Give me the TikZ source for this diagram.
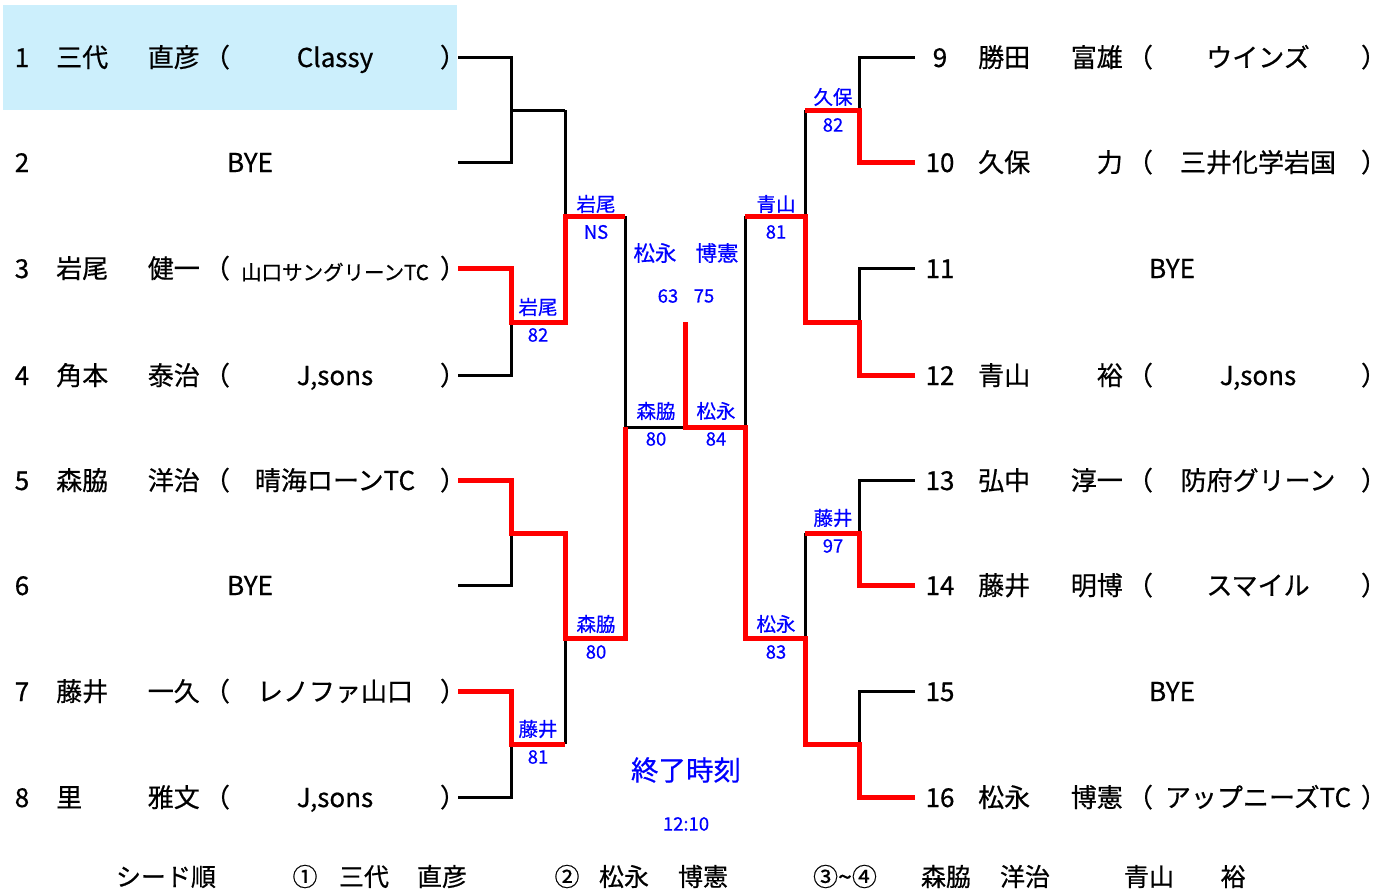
\documentclass[tikz,border=0pt]{standalone}
\usepackage{fontspec}
\setmainfont{Noto Sans CJK JP}[FakeBold=0.6]
\begin{document}
\begin{tikzpicture}[x=1pt,y=-1pt,
  bk/.style={line width=3pt,black},
  rd/.style={line width=5pt,red},
  nm/.style={font=\fontsize{26}{26}\selectfont,inner sep=0pt,anchor=base,yshift=-10pt},
  tm/.style={nm},
  sm/.style={nm,font=\fontsize{20.5}{20.5}\selectfont,yshift=-2pt},
  lb/.style={text=blue,font=\fontsize{19.5}{19.5}\selectfont,inner sep=0pt},
  sc/.style={text=blue,font=\fontsize{18.5}{18.5}\selectfont,inner sep=0pt},
  bt/.style={font=\fontsize{25}{25}\selectfont,inner sep=0pt,anchor=base,yshift=-10pt}]
\useasboundingbox (0,0) rectangle (1390,894);
\fill[cyan!20] (3,5) rectangle (457,110);
% coordinates
\foreach \i/\y in {1/57,2/162,3/268,4/375,5/480,6/585,7/691,8/797}{
  \coordinate (P\i) at (458,\y);}
\foreach \i/\y in {9/57,10/162,11/268,12/375,13/480,14/585,15/691,16/797}{
  \coordinate (P\i) at (915,\y);}
\coordinate (m1) at (0,110); \coordinate (m2) at (0,322);
\coordinate (m3) at (0,533); \coordinate (m4) at (0,744);
\coordinate (n1) at (0,216); \coordinate (n2) at (0,638);
\coordinate (f) at (0,427); \coordinate (ft) at (0,322);
\coordinate (cL1) at (511,0); \coordinate (cL2) at (565,0);
\coordinate (cL3) at (625,0); \coordinate (cC) at (685,0);
\coordinate (cR3) at (745,0); \coordinate (cR2) at (805,0);
\coordinate (cR1) at (859,0);
% black bracket left
\draw[bk] (P1) -- (P1-|cL1) -- (P2-|cL1) -- (P2);
\draw[bk] (P3) -- (P3-|cL1) -- (P4-|cL1) -- (P4);
\draw[bk] (P5) -- (P5-|cL1) -- (P6-|cL1) -- (P6);
\draw[bk] (P7) -- (P7-|cL1) -- (P8-|cL1) -- (P8);
\draw[bk] (m1-|cL1) -- (m1-|cL2);
\draw[bk] (m2-|cL1) -- (m2-|cL2);
\draw[bk] (m3-|cL1) -- (m3-|cL2);
\draw[bk] (m4-|cL1) -- (m4-|cL2);
\draw[bk] (m1-|cL2) -- (m2-|cL2);
\draw[bk] (m3-|cL2) -- (m4-|cL2);
\draw[bk] (n1-|cL2) -- (n1-|cL3);
\draw[bk] (n2-|cL2) -- (n2-|cL3);
\draw[bk] (n1-|cL3) -- (n2-|cL3);
\draw[bk] (f-|cL3) -- (f-|cR3);
% black bracket right
\draw[bk] (P9) -- (P9-|cR1) -- (P10-|cR1) -- (P10);
\draw[bk] (P11) -- (P11-|cR1) -- (P12-|cR1) -- (P12);
\draw[bk] (P13) -- (P13-|cR1) -- (P14-|cR1) -- (P14);
\draw[bk] (P15) -- (P15-|cR1) -- (P16-|cR1) -- (P16);
\draw[bk] (m1-|cR1) -- (m1-|cR2);
\draw[bk] (m2-|cR1) -- (m2-|cR2);
\draw[bk] (m3-|cR1) -- (m3-|cR2);
\draw[bk] (m4-|cR1) -- (m4-|cR2);
\draw[bk] (m1-|cR2) -- (m2-|cR2);
\draw[bk] (m3-|cR2) -- (m4-|cR2);
\draw[bk] (n1-|cR2) -- (n1-|cR3);
\draw[bk] (n2-|cR2) -- (n2-|cR3);
\draw[bk] (n1-|cR3) -- (n2-|cR3);
% red winner paths
\draw[rd] (P3) -- (P3-|cL1) -- (m2-|cL1) -- (m2-|cL2) -- (n1-|cL2) -- (n1-|cL3);
\draw[rd] (P5) -- (P5-|cL1) -- (m3-|cL1) -- (m3-|cL2) -- (n2-|cL2) -- (n2-|cL3) -- (f-|cL3);
\draw[rd] (P7) -- (P7-|cL1) -- (m4-|cL1) -- (m4-|cL2);
\draw[rd] (ft-|cC) -- (f-|cC) -- (f-|cR3) -- (n2-|cR3) -- (n2-|cR2) -- (m4-|cR2) -- (m4-|cR1) -- (P16-|cR1) -- (P16);
\draw[rd] (n1-|cR3) -- (n1-|cR2) -- (m2-|cR2) -- (m2-|cR1) -- (P12-|cR1) -- (P12);
\draw[rd] (m1-|cR2) -- (m1-|cR1) -- (P10-|cR1) -- (P10);
\draw[rd] (m3-|cR2) -- (m3-|cR1) -- (P14-|cR1) -- (P14);
% left players
\newcommand\plL[5]{%
  \node[nm] (n#2) at (22,#1) {#2};
  \node[nm,anchor=base west] (s#2) at (56,#1) {#3};
  \node[nm,anchor=base east] (g#2) at (200,#1) {#4};
  \node[nm] (o#2) at (217,#1) {（};
  \node[tm] (t#2) at (335,#1) {#5};
  \node[nm] (c#2) at (453,#1) {）};}
\newcommand\plR[5]{%
  \node[nm] (n#2) at (940,#1) {#2};
  \node[nm,anchor=base west] (s#2) at (978,#1) {#3};
  \node[nm,anchor=base east] (g#2) at (1123,#1) {#4};
  \node[nm] (o#2) at (1140,#1) {（};
  \node[tm] (t#2) at (1258,#1) {#5};
  \node[nm] (c#2) at (1374,#1) {）};}
\plL{57}{1}{三代}{直彦}{Classy}
\node[nm] (n2) at (22,162) {2}; \node[nm] (b2) at (250,162) {BYE};
\node[nm] (n3) at (22,268) {3};
\node[nm,anchor=base west] (s3) at (56,268) {岩尾};
\node[nm,anchor=base east] (g3) at (200,268) {健一};
\node[nm] (o3) at (217,268) {（};
\node[sm] (t3) at (335,268) {山口サングリーンTC};
\node[nm] (c3) at (453,268) {）};
\plL{375}{4}{角本}{泰治}{J,sons}
\plL{480}{5}{森脇}{洋治}{晴海ローンTC}
\node[nm] (n6) at (22,585) {6}; \node[nm] (b6) at (250,585) {BYE};
\plL{691}{7}{藤井}{一久}{レノファ山口}
\plL{797}{8}{里}{雅文}{J,sons}
% right players
\plR{57}{9}{勝田}{富雄}{ウインズ}
\plR{162}{10}{久保}{力}{三井化学岩国}
\node[nm] (n11) at (940,268) {11}; \node[nm] (b11) at (1172,268) {BYE};
\plR{375}{12}{青山}{裕}{J,sons}
\plR{480}{13}{弘中}{淳一}{防府グリーン}
\plR{585}{14}{藤井}{明博}{スマイル}
\node[nm] (n15) at (940,691) {15}; \node[nm] (b15) at (1172,691) {BYE};
\plR{797}{16}{松永}{博憲}{アップニーズTC}
% match labels
\newcommand\ml[5]{%
  \node[lb] (w#1) at (#2,#3) {#4};
  \node[sc] (r#1) at (#2,#3+28) {#5};}
\ml{a}{538}{307}{岩尾}{82}
\ml{b}{538}{729}{藤井}{81}
\ml{c}{596}{204}{岩尾}{NS}
\ml{d}{596}{624}{森脇}{80}
\ml{e}{656}{411}{森脇}{80}
\ml{f}{716}{411}{松永}{84}
\ml{g}{776}{204}{青山}{81}
\ml{h}{776}{624}{松永}{83}
\ml{i}{833}{97}{久保}{82}
\ml{j}{833}{518}{藤井}{97}
% champion
\node[lb,font=\fontsize{21.5}{21.5}\selectfont] (ch1) at (655,253) {松永};
\node[lb,font=\fontsize{21.5}{21.5}\selectfont] (ch2) at (717,253) {博憲};
\node[sc] (cs1) at (668,296) {63};
\node[sc] (cs2) at (704,296) {75};
\node[lb,font=\fontsize{27.5}{27.5}\selectfont] (end) at (686,770) {終了時刻};
\node[sc] (time) at (686,824) {12:10};
% seeds
\node[bt] (sd) at (166,876) {シード順};
\node[bt] (s1) at (305,876) {①};
\node[bt] (s1a) at (364,876) {三代};
\node[bt] (s1b) at (442,876) {直彦};
\node[bt] (s2) at (567,876) {②};
\node[bt] (s2a) at (624,876) {松永};
\node[bt] (s2b) at (703,876) {博憲};
\node[bt] (s3) at (845,876) {③\textasciitilde ④};
\node[bt] (s3a) at (946,876) {森脇};
\node[bt] (s3b) at (1025,876) {洋治};
\node[bt] (s4a) at (1149,876) {青山};
\node[bt] (s4b) at (1233,876) {裕};
\end{tikzpicture}
\end{document}
